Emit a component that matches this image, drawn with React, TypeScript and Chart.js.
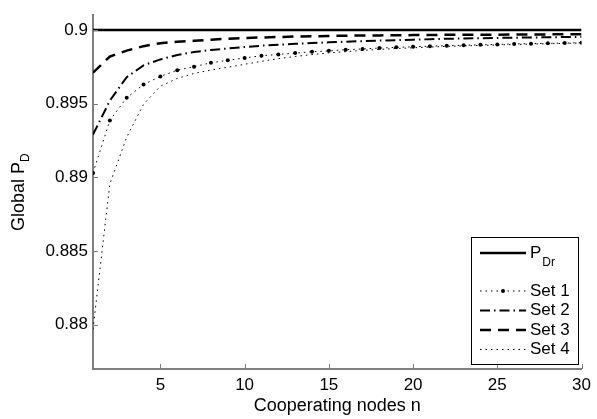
import React, { useEffect, useRef } from "react";
import { Chart, registerables } from "chart.js";

Chart.register(...registerables);

const nodes = [1, 2, 3, 4, 5, 6, 7, 8, 9, 10, 11, 12, 13, 14, 15, 16, 17, 18, 19, 20, 21, 22, 23, 24, 25, 26, 27, 28, 29, 30];
const pDr = [0.9, 0.9, 0.9, 0.9, 0.9, 0.9, 0.9, 0.9, 0.9, 0.9, 0.9, 0.9, 0.9, 0.9, 0.9, 0.9, 0.9, 0.9, 0.9, 0.9, 0.9, 0.9, 0.9, 0.9, 0.9, 0.9, 0.9, 0.9, 0.9, 0.9];
const set1 = [0.8903, 0.89386, 0.8954, 0.8963, 0.89685, 0.89727, 0.89751, 0.89777, 0.89794, 0.8981, 0.89825, 0.89834, 0.89843, 0.89852, 0.89858, 0.89866, 0.89871, 0.89877, 0.89882, 0.89886, 0.8989, 0.89893, 0.89896, 0.89899, 0.89902, 0.89905, 0.89907, 0.89909, 0.89911, 0.89913];
const set2 = [0.8929, 0.8952, 0.8968, 0.8976, 0.898, 0.8983, 0.8985, 0.89864, 0.89874, 0.89884, 0.89893, 0.899, 0.89906, 0.89911, 0.89916, 0.8992, 0.89924, 0.89928, 0.89931, 0.89934, 0.89937, 0.8994, 0.89942, 0.89944, 0.89946, 0.89947, 0.89949, 0.8995, 0.89952, 0.89953];
const set3 = [0.8971, 0.8982, 0.8986, 0.8989, 0.8991, 0.8992, 0.89926, 0.89934, 0.8994, 0.89945, 0.89949, 0.89952, 0.89955, 0.89957, 0.89959, 0.89961, 0.89962, 0.89963, 0.89964, 0.89965, 0.89966, 0.89967, 0.89967, 0.89968, 0.89968, 0.89969, 0.89969, 0.8997, 0.8997, 0.8997];
const set4 = [0.8797, 0.88955, 0.89272, 0.89496, 0.89618, 0.89671, 0.89705, 0.89728, 0.89747, 0.89767, 0.89787, 0.89805, 0.8982, 0.89833, 0.89844, 0.89853, 0.89861, 0.89868, 0.89874, 0.89879, 0.89884, 0.89888, 0.89892, 0.89895, 0.89898, 0.89901, 0.89904, 0.89906, 0.89909, 0.89911];

const xTicks = [5, 10, 15, 20, 25, 30];
const yTicks = [0.88, 0.885, 0.89, 0.895, 0.9];
const yTickLabels = ["0.88", "0.885", "0.89", "0.895", "0.9"];

const FONT = "'Liberation Sans', Arial, Helvetica, sans-serif";
const AXIS_GREY = "#7f7f7f";

const DASH_SET1 = [1.5, 4];
const DASH_SET2 = [10, 4, 1.5, 4];
const DASH_SET3 = [11, 7];
const DASH_SET4 = [1.5, 4];

const legendItems = [
  { label: "P", sub: "Dr", dash: [] as number[], width: 2.5, marker: false, y: 253 },
  { label: "Set 1", sub: "", dash: DASH_SET1, width: 1, marker: true, y: 291 },
  { label: "Set 2", sub: "", dash: DASH_SET2, width: 2, marker: false, y: 310.5 },
  { label: "Set 3", sub: "", dash: DASH_SET3, width: 2.5, marker: false, y: 330 },
  { label: "Set 4", sub: "", dash: DASH_SET4, width: 1, marker: false, y: 349.5 },
];

const decorPlugin = {
  id: "decor",
  afterDraw(chart: any) {
    const ctx = chart.ctx as CanvasRenderingContext2D;
    const area = chart.chartArea;
    const xs = chart.scales.x;
    const ys = chart.scales.y;
    ctx.save();
    // inward tick marks
    ctx.strokeStyle = AXIS_GREY;
    ctx.lineWidth = 1;
    ctx.beginPath();
    xTicks.forEach((v) => {
      const px = Math.round(xs.getPixelForValue(v)) + 0.5;
      ctx.moveTo(px, area.bottom);
      ctx.lineTo(px, area.bottom - 5);
    });
    yTicks.forEach((v) => {
      const py = Math.round(ys.getPixelForValue(v)) + 0.5;
      ctx.moveTo(area.left, py);
      ctx.lineTo(area.left + 5, py);
    });
    ctx.stroke();

    // axis titles
    ctx.fillStyle = "#000";
    ctx.font = `18px ${FONT}`;
    ctx.textAlign = "center";
    ctx.textBaseline = "alphabetic";
    ctx.fillText("Cooperating nodes n", (area.left + area.right) / 2, 411);

    ctx.save();
    ctx.translate(24, (area.top + area.bottom) / 2);
    ctx.rotate(-Math.PI / 2);
    ctx.textAlign = "left";
    ctx.font = `18px ${FONT}`;
    const mainW = ctx.measureText("Global P").width;
    ctx.font = `12px ${FONT}`;
    const subW = ctx.measureText("D").width;
    const startX = -(mainW + subW) / 2;
    ctx.font = `18px ${FONT}`;
    ctx.fillText("Global P", startX, 0);
    ctx.font = `12px ${FONT}`;
    ctx.fillText("D", startX + mainW, 5);
    ctx.restore();

    // legend
    const bx = 471.5, by = 237.5, bw = 107, bh = 127;
    ctx.fillStyle = "#fff";
    ctx.fillRect(bx, by, bw, bh);
    ctx.strokeStyle = "#000";
    ctx.lineWidth = 1;
    ctx.setLineDash([]);
    ctx.strokeRect(bx, by, bw, bh);
    legendItems.forEach((it) => {
      ctx.save();
      ctx.strokeStyle = "#000";
      ctx.lineWidth = it.width;
      ctx.setLineDash(it.dash);
      ctx.beginPath();
      ctx.moveTo(480, it.y);
      ctx.lineTo(526, it.y);
      ctx.stroke();
      ctx.setLineDash([]);
      if (it.marker) {
        ctx.fillStyle = "#000";
        ctx.beginPath();
        ctx.arc(503, it.y, 2, 0, Math.PI * 2);
        ctx.fill();
      }
      ctx.fillStyle = "#000";
      ctx.textAlign = "left";
      ctx.textBaseline = "middle";
      ctx.font = `17px ${FONT}`;
      ctx.fillText(it.label, 530, it.y);
      if (it.sub) {
        const w = ctx.measureText(it.label).width;
        ctx.font = `12px ${FONT}`;
        ctx.fillText(it.sub, 530 + w + 1, it.y + 10);
      }
      ctx.restore();
    });
    ctx.restore();
  },
};

function toPoints(vals: number[]) {
  return nodes.map((n, i) => ({ x: n, y: vals[i] }));
}

export default function App() {
  const canvasRef = useRef<HTMLCanvasElement | null>(null);

  useEffect(() => {
    if (!canvasRef.current) return;
    const chart = new Chart(canvasRef.current, {
      type: "line",
      data: {
        datasets: [
          { label: "P_Dr", data: toPoints(pDr), borderColor: "#000", borderWidth: 2.5, pointRadius: 0, tension: 0 },
          { label: "Set 1", data: toPoints(set1), borderColor: "#000", borderWidth: 1, borderDash: DASH_SET1, pointRadius: 2, pointBorderWidth: 0, pointBackgroundColor: "#000", tension: 0 },
          { label: "Set 2", data: toPoints(set2), borderColor: "#000", borderWidth: 2, borderDash: DASH_SET2, pointRadius: 0, tension: 0 },
          { label: "Set 3", data: toPoints(set3), borderColor: "#000", borderWidth: 2.5, borderDash: DASH_SET3, pointRadius: 0, tension: 0 },
          { label: "Set 4", data: toPoints(set4), borderColor: "#000", borderWidth: 1, borderDash: DASH_SET4, pointRadius: 0, tension: 0 },
        ],
      },
      options: {
        animation: false,
        responsive: false,
        maintainAspectRatio: false,
        events: [],
        layout: { padding: { top: 4, right: 12, left: 0, bottom: 0 } },
        plugins: { legend: { display: false }, tooltip: { enabled: false }, title: { display: false } },
        scales: {
          x: {
            type: "linear",
            min: 1,
            max: 30,
            grid: { display: false, drawTicks: false },
            border: { display: true, color: AXIS_GREY, width: 2 },
            ticks: {
              color: "#000",
              font: { family: FONT, size: 17 },
              padding: 6,
              maxRotation: 0,
              autoSkip: false,
              callback: (v: any) => String(v),
            },
            afterBuildTicks: (s: any) => {
              s.ticks = xTicks.map((v) => ({ value: v }));
            },
            afterFit: (s: any) => {
              s.height = 50;
            },
          },
          y: {
            type: "linear",
            min: 0.877,
            max: 0.901,
            grid: { display: false, drawTicks: false },
            border: { display: true, color: AXIS_GREY, width: 2 },
            ticks: {
              color: "#000",
              font: { family: FONT, size: 17 },
              padding: 5,
              autoSkip: false,
              callback: (v: any) => {
                const i = yTicks.findIndex((t) => Math.abs(t - v) < 1e-9);
                return i >= 0 ? yTickLabels[i] : "";
              },
            },
            afterBuildTicks: (s: any) => {
              s.ticks = yTicks.map((v) => ({ value: v }));
            },
            afterFit: (s: any) => {
              s.width = 93;
            },
          },
        },
      },
      plugins: [decorPlugin],
    } as any);
    return () => chart.destroy();
  }, []);

  return (
    <div style={{ position: "fixed", left: 0, top: 0, width: 597, height: 419, background: "#fff" }}>
      <canvas ref={canvasRef} width={597} height={419} style={{ width: 597, height: 419, display: "block" }} />
    </div>
  );
}
